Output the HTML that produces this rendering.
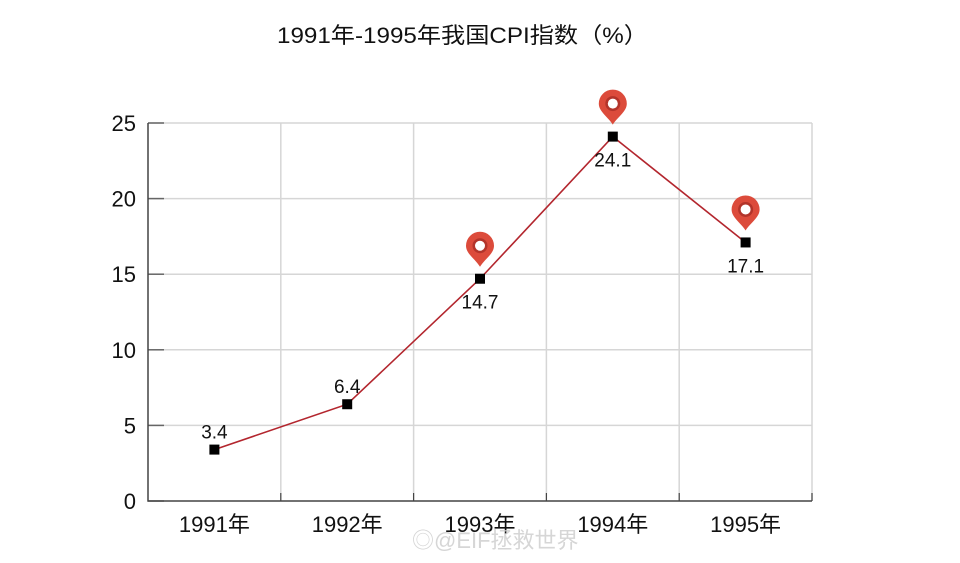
<!DOCTYPE html>
<html><head><meta charset="utf-8"><style>
body{margin:0;background:#fff;}
svg text{font-family:"Liberation Sans","Noto Sans CJK SC",sans-serif;}
</style></head><body>
<svg id="c" width="960" height="558">
<text x="277" y="43" font-size="22" textLength="371" lengthAdjust="spacingAndGlyphs" fill="#111">1991年-1995年我国CPI指数（%）</text>
<g id="grid"></g><g id="axes"></g><g id="marks"></g>
<text x="412" y="548" font-size="22" fill="#ccc" opacity="0.8">◎@EIF拯救世界</text>
</svg>
<script>
const categories=["1991年","1992年","1993年","1994年","1995年"];
const values=[3.4,6.4,14.7,24.1,17.1];
const yTicks=[0,5,10,15,20,25];
const pinned=[false,false,true,true,true];
const labelBelow=[false,false,true,true,true];
const L=148,R=812,T=123,B=501,yMax=25;
const bw=(R-L)/categories.length;
const x=i=>L+bw*(i+0.5);
const y=v=>B-(v/yMax)*(B-T);
const ns="http://www.w3.org/2000/svg";
function mk(p,tag,a){const e=document.createElementNS(ns,tag);for(const k in a)e.setAttribute(k,a[k]);document.getElementById(p).appendChild(e);return e;}
yTicks.forEach(t=>{
 if(t>0){const g=mk('grid','line',{x1:L,x2:R,y1:y(t),y2:y(t),stroke:'#d6d6d6','stroke-width':1.5});
 
 }
 const tk=mk('axes','line',{x1:L,x2:L+16,y1:y(t),y2:y(t),stroke:'#666','stroke-width':1.5});
 
 
 const lb=mk('axes','text',{x:L-12,y:y(t)+8,'font-size':22,'text-anchor':'end',fill:'#111'});lb.textContent=t;
 
 
});
for(let i=1;i<=categories.length;i++){
 const xx=L+bw*i;
 const g=mk('grid','line',{x1:xx,x2:xx,y1:T,y2:B,stroke:'#d6d6d6','stroke-width':1.5});
 
 
 const tk=mk('axes','line',{x1:xx,x2:xx,y1:B,y2:B-8,stroke:'#444','stroke-width':1.2});
 
 
}
const ax=mk('axes','path',{d:`M${L},${T}V${B}H${R}`,fill:'none',stroke:'#444','stroke-width':1.5});


categories.forEach((c,i)=>{
 const t=mk('axes','text',{x:x(i),y:B+31,'font-size':22,'text-anchor':'middle',fill:'#111'});t.textContent=c;
 
 
});
const ln=mk('marks','polyline',{points:values.map((v,i)=>x(i)+','+y(v)).join(' '),fill:'none',stroke:'#b3262e','stroke-width':1.6});


values.forEach((v,i)=>{
 const px=x(i),py=y(v);
 const r=mk('marks','rect',{x:px-5,y:py-5,width:10,height:10,fill:'#000'});
 
 
 const t=mk('marks','text',{x:px,y:labelBelow[i]?py+30:py-11,'font-size':19,'text-anchor':'middle',fill:'#111'});t.textContent=v;
 
 
 if(pinned[i]){
  const cy=py-33,rr=14;
  const p=mk('marks','path',{d:`M${px},${py-12} C${px-5},${cy+13} ${px-rr},${cy+8} ${px-rr},${cy} A${rr},${rr} 0 1 1 ${px+rr},${cy} C${px+rr},${cy+8} ${px+5},${cy+13} ${px},${py-12}Z`,fill:'#dc4b3b'});
  
  
  const c1=mk('marks','circle',{cx:px,cy:cy,r:7.5,fill:'#b3342a'});
  
  
  const c2=mk('marks','circle',{cx:px,cy:cy,r:5,fill:'#fff'});
  
  
 }
});
</script>
</body></html>
